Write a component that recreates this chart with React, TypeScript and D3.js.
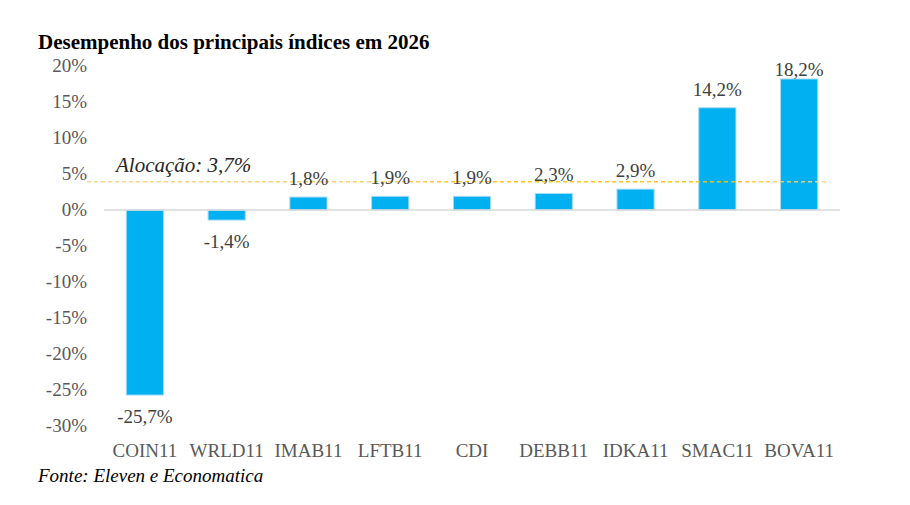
import React from "react";
import * as d3 from "d3";

const categories: string[] = ["COIN11", "WRLD11", "IMAB11", "LFTB11", "CDI", "DEBB11", "IDKA11", "SMAC11", "BOVA11"];
const values: number[] = [-25.7, -1.4, 1.8, 1.9, 1.9, 2.3, 2.9, 14.2, 18.2];
const yTicks: number[] = [20, 15, 10, 5, 0, -5, -10, -15, -20, -25, -30];
const allocation = 3.7;
const title = "Desempenho dos principais índices em 2026";
const source = "Fonte: Eleven e Economatica";
const allocationLabel = "Alocação: 3,7%";

const W = 910;
const H = 505;
const FONT = "'Liberation Serif', 'Times New Roman', serif";

const fmt = (v: number) => d3.format(".1f")(v).replace(".", ",").replace("−", "-") + "%";

export default function App() {
  const x = d3.scaleBand<string>().domain(categories).range([104, 840]).paddingInner(0.545).paddingOuter(0.2725);
  const y = d3.scaleLinear().domain([-30, 20]).range([426, 66]);
  const y0 = y(0);
  const bw = x.bandwidth();

  return (
    <svg width={W} height={H} style={{ position: "absolute", left: 0, top: 0, background: "#fff" }} fontFamily={FONT}>
      <defs>
        <linearGradient id="allocGrad" gradientUnits="userSpaceOnUse" x1={87} x2={830} y1={0} y2={0}>
          <stop offset="0" stopColor="#f8cf7e" />
          <stop offset="0.35" stopColor="#f9c95c" />
          <stop offset="0.55" stopColor="#ffbf00" />
          <stop offset="0.85" stopColor="#ffbf00" />
          <stop offset="1" stopColor="#fad592" />
        </linearGradient>
      </defs>
      <text x={38} y={49} fontSize={21} fontWeight="bold" fill="#000">{title}</text>

      {yTicks.map((t) => (
        <text key={t} x={87} y={y(t) + 6} fontSize={19} textAnchor="end" fill="#595959">{`${t}%`}</text>
      ))}

      {values.map((v, i) => {
        const c = categories[i];
        const top = y(Math.max(0, v));
        const h = Math.abs(y(v) - y0);
        return (
          <rect key={c} x={x(c)} y={top} width={bw} height={h} fill="#00b0f0" stroke="#a6dcf5" strokeWidth={1} />
        );
      })}

      <line x1={104} x2={840} y1={y0} y2={y0} stroke="#d9d9d9" strokeWidth={1.5} />

      <line x1={87} x2={830} y1={y(allocation) - 1.5} y2={y(allocation) - 1.5} stroke="url(#allocGrad)" strokeOpacity={0.9} strokeWidth={1.5} strokeDasharray="4,3" />
      <text x={116} y={172} fontSize={21} fontStyle="italic" fill="#262626">{allocationLabel}</text>

      {values.map((v, i) => {
        const c = categories[i];
        const cx = (x(c) as number) + bw / 2;
        const ly = v >= 0 ? Math.max(y(v) - 12, 76) : y(v) + 28;
        return (
          <text key={c} x={cx} y={ly} fontSize={19} textAnchor="middle" fill="#404040">{fmt(v)}</text>
        );
      })}

      {categories.map((c) => (
        <text key={c} x={(x(c) as number) + bw / 2} y={457} fontSize={19} textAnchor="middle" fill="#595959">{c}</text>
      ))}

      <text x={38} y={482} fontSize={19} fontStyle="italic" fill="#000">{source}</text>
    </svg>
  );
}
